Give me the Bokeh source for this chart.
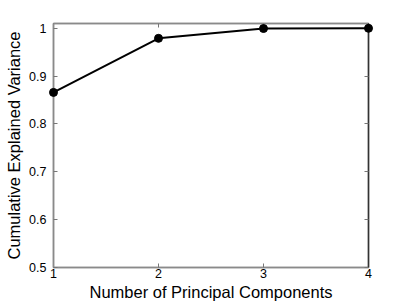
from bokeh.plotting import figure
from bokeh.models import Range1d, FixedTicker, LinearAxis
from bokeh.embed import file_html
from bokeh.resources import INLINE

components = [1, 2, 3, 4]
cumulative_variance = [0.866, 0.979, 0.9995, 1.0]
x_ticks = [1, 2, 3, 4]
y_ticks = [0.5, 0.6, 0.7, 0.8, 0.9, 1.0]
y_tick_labels = ["0.5", "0.6", "0.7", "0.8", "0.9", "1"]

FONT = "Liberation Sans"

p = figure(width=407, height=306, output_backend="svg", toolbar_location=None,
           x_range=Range1d(1, 4), y_range=Range1d(0.5, 1.01),
           min_border_left=53, min_border_right=39, min_border_top=23, min_border_bottom=39)
p.grid.visible = False
p.outline_line_color = "#8a8a8a"
p.outline_line_width = 1.5

def style(ax, ticks, labels=None):
    ax.ticker = FixedTicker(ticks=ticks)
    ax.major_tick_in = 4
    ax.major_tick_out = 0
    ax.minor_tick_line_color = None
    ax.axis_line_width = 1.5
    ax.major_tick_line_color = "#777777"
    ax.major_label_text_font = FONT
    ax.major_label_text_font_size = "12.5px"
    ax.major_label_text_color = "black"
    ax.axis_label_text_font = FONT
    ax.axis_label_text_font_style = "normal"
    ax.axis_label_text_font_size = "16.5px"
    ax.axis_label_text_color = "black"
    if labels is not None:
        ax.major_label_overrides = {t: l for t, l in zip(ticks, labels)}

xa = p.xaxis[0]
ya = p.yaxis[0]
style(xa, x_ticks)
style(ya, y_ticks, y_tick_labels)
xa.axis_line_color = "#8a8a8a"
ya.axis_line_color = "#8a8a8a"
xa.major_label_standoff = 1
ya.major_label_standoff = 7
xa.axis_label = "Number of Principal Components"
ya.axis_label = "Cumulative Explained Variance"
xa.axis_label_standoff = 2
ya.axis_label_standoff = 3

ra = LinearAxis()
style(ra, y_ticks, [""] * len(y_ticks))
ra.axis_line_color = "#333333"
ra.major_label_standoff = 0
p.add_layout(ra, "right")

ta = LinearAxis()
style(ta, x_ticks, [""] * len(x_ticks))
ta.axis_line_color = "#8a8a8a"
ta.major_label_standoff = 0
p.add_layout(ta, "above")

p.line(components, cumulative_variance, line_color="black", line_width=2, level="overlay")
p.scatter(components, cumulative_variance, size=8, fill_color="black", line_color="black",
          level="overlay")

open("out.html", "w").write(file_html(p, INLINE))
